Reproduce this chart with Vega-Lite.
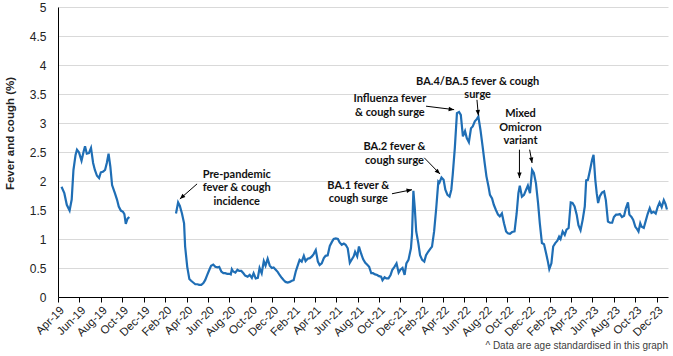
{
  "$schema": "https://vega.github.io/schema/vega-lite/v6.json",
  "width": 610,
  "height": 290,
  "autosize": {"type": "none"},
  "padding": {"left": 58, "top": 7, "right": 5, "bottom": 59},
  "background": "white",
  "config": {
    "view": {"stroke": null},
    "font": "Liberation Sans",
    "axisX": {
      "format": "%b-%y", "labelAngle": -45, "labelOverlap": false, "labelFlush": false, "labelBound": false,
      "grid": false, "tickSize": 5, "tickColor": "#000", "domainColor": "#000", "domainWidth": 1,
      "labelFontSize": 11.5, "labelColor": "#222", "labelPadding": 2, "labelFont": "Liberation Sans"
    },
    "axisY": {
      "format": "~g", "labelOverlap": false,
      "ticks": false, "tickSize": 0, "labelPadding": 12, "domainColor": "#000", "domainWidth": 1,
      "grid": true, "gridColor": "#d9d9d9", "gridWidth": 1,
      "labelFontSize": 12, "labelColor": "#222", "labelFont": "Liberation Sans",
      "titleFontSize": 11.5, "titleFontWeight": "bold", "titleColor": "#222", "titleFont": "Liberation Sans",
      "titleX": -48, "titleY": 126, "titleAngle": -90, "titleAlign": "center", "titleBaseline": "middle"
    }
  },
  "title": {"text": "^ Data are age standardised in this graph", "orient": "bottom", "anchor": "end", "frame": "group", "fontSize": 10, "fontWeight": "normal", "color": "#404040", "font": "Liberation Sans", "offset": 3},
  "datasets": {
    "series": [
      {"date": "2019-04-11", "value": 1.90}, {"date": "2019-04-19", "value": 1.79}, {"date": "2019-04-26", "value": 1.59}, {"date": "2019-05-04", "value": 1.49},
      {"date": "2019-05-10", "value": 1.68}, {"date": "2019-05-15", "value": 2.19}, {"date": "2019-05-21", "value": 2.45}, {"date": "2019-05-25", "value": 2.54},
      {"date": "2019-05-31", "value": 2.49}, {"date": "2019-06-07", "value": 2.35}, {"date": "2019-06-13", "value": 2.51}, {"date": "2019-06-17", "value": 2.60},
      {"date": "2019-06-22", "value": 2.47}, {"date": "2019-06-28", "value": 2.48}, {"date": "2019-07-04", "value": 2.57}, {"date": "2019-07-10", "value": 2.31},
      {"date": "2019-07-15", "value": 2.19}, {"date": "2019-07-21", "value": 2.09}, {"date": "2019-07-27", "value": 2.05}, {"date": "2019-08-01", "value": 2.15},
      {"date": "2019-08-07", "value": 2.16}, {"date": "2019-08-13", "value": 2.19}, {"date": "2019-08-18", "value": 2.31}, {"date": "2019-08-23", "value": 2.47},
      {"date": "2019-08-28", "value": 2.25}, {"date": "2019-09-02", "value": 1.93}, {"date": "2019-09-10", "value": 1.79}, {"date": "2019-09-16", "value": 1.68},
      {"date": "2019-09-21", "value": 1.56}, {"date": "2019-09-27", "value": 1.49}, {"date": "2019-10-03", "value": 1.47}, {"date": "2019-10-07", "value": 1.43},
      {"date": "2019-10-11", "value": 1.26}, {"date": "2019-10-16", "value": 1.35}, {"date": "2019-10-21", "value": 1.38},
      {"date": "2019-12-15", "value": null},
      {"date": "2020-03-02", "value": 1.44}, {"date": "2020-03-08", "value": 1.63}, {"date": "2020-03-13", "value": 1.57}, {"date": "2020-03-19", "value": 1.44},
      {"date": "2020-03-25", "value": 1.27}, {"date": "2020-03-28", "value": 0.87}, {"date": "2020-04-03", "value": 0.52}, {"date": "2020-04-09", "value": 0.31},
      {"date": "2020-04-14", "value": 0.28}, {"date": "2020-04-20", "value": 0.25}, {"date": "2020-04-26", "value": 0.22}, {"date": "2020-05-02", "value": 0.22},
      {"date": "2020-05-07", "value": 0.21}, {"date": "2020-05-13", "value": 0.21}, {"date": "2020-05-19", "value": 0.24}, {"date": "2020-05-24", "value": 0.29},
      {"date": "2020-05-30", "value": 0.38}, {"date": "2020-06-05", "value": 0.47}, {"date": "2020-06-10", "value": 0.54}, {"date": "2020-06-16", "value": 0.56},
      {"date": "2020-06-22", "value": 0.52}, {"date": "2020-06-28", "value": 0.51}, {"date": "2020-07-03", "value": 0.52}, {"date": "2020-07-09", "value": 0.44},
      {"date": "2020-07-15", "value": 0.41}, {"date": "2020-07-20", "value": 0.41}, {"date": "2020-07-26", "value": 0.40}, {"date": "2020-08-01", "value": 0.40},
      {"date": "2020-08-05", "value": 0.39}, {"date": "2020-08-08", "value": 0.48}, {"date": "2020-08-12", "value": 0.44}, {"date": "2020-08-18", "value": 0.42},
      {"date": "2020-08-24", "value": 0.47}, {"date": "2020-08-29", "value": 0.45}, {"date": "2020-09-04", "value": 0.45}, {"date": "2020-09-10", "value": 0.41},
      {"date": "2020-09-15", "value": 0.37}, {"date": "2020-09-22", "value": 0.35}, {"date": "2020-09-28", "value": 0.38}, {"date": "2020-10-04", "value": 0.33},
      {"date": "2020-10-09", "value": 0.41}, {"date": "2020-10-15", "value": 0.32}, {"date": "2020-10-21", "value": 0.33}, {"date": "2020-10-26", "value": 0.50},
      {"date": "2020-11-01", "value": 0.41}, {"date": "2020-11-07", "value": 0.62}, {"date": "2020-11-12", "value": 0.54}, {"date": "2020-11-18", "value": 0.66},
      {"date": "2020-11-24", "value": 0.54}, {"date": "2020-11-30", "value": 0.50}, {"date": "2020-12-05", "value": 0.51}, {"date": "2020-12-11", "value": 0.47},
      {"date": "2020-12-17", "value": 0.43}, {"date": "2020-12-22", "value": 0.38}, {"date": "2020-12-28", "value": 0.33}, {"date": "2021-01-03", "value": 0.29},
      {"date": "2021-01-08", "value": 0.26}, {"date": "2021-01-14", "value": 0.25}, {"date": "2021-01-20", "value": 0.26}, {"date": "2021-01-26", "value": 0.28},
      {"date": "2021-01-31", "value": 0.29}, {"date": "2021-02-06", "value": 0.44}, {"date": "2021-02-12", "value": 0.55}, {"date": "2021-02-17", "value": 0.64},
      {"date": "2021-02-23", "value": 0.61}, {"date": "2021-03-01", "value": 0.71}, {"date": "2021-03-06", "value": 0.62}, {"date": "2021-03-12", "value": 0.66},
      {"date": "2021-03-18", "value": 0.67}, {"date": "2021-03-24", "value": 0.70}, {"date": "2021-03-29", "value": 0.74}, {"date": "2021-04-04", "value": 0.81},
      {"date": "2021-04-10", "value": 0.61}, {"date": "2021-04-15", "value": 0.55}, {"date": "2021-04-21", "value": 0.58}, {"date": "2021-04-27", "value": 0.67},
      {"date": "2021-05-02", "value": 0.71}, {"date": "2021-05-08", "value": 0.72}, {"date": "2021-05-14", "value": 0.88}, {"date": "2021-05-20", "value": 0.95},
      {"date": "2021-05-25", "value": 1.00}, {"date": "2021-05-31", "value": 1.01}, {"date": "2021-06-06", "value": 1.00}, {"date": "2021-06-11", "value": 0.94},
      {"date": "2021-06-17", "value": 0.90}, {"date": "2021-06-23", "value": 0.92}, {"date": "2021-06-28", "value": 0.90}, {"date": "2021-07-04", "value": 0.84},
      {"date": "2021-07-10", "value": 0.59}, {"date": "2021-07-16", "value": 0.65}, {"date": "2021-07-21", "value": 0.70}, {"date": "2021-07-25", "value": 0.78},
      {"date": "2021-07-31", "value": 0.70}, {"date": "2021-08-05", "value": 0.87}, {"date": "2021-08-11", "value": 0.75}, {"date": "2021-08-17", "value": 0.65},
      {"date": "2021-08-23", "value": 0.59}, {"date": "2021-08-28", "value": 0.56}, {"date": "2021-09-03", "value": 0.52}, {"date": "2021-09-09", "value": 0.41},
      {"date": "2021-09-14", "value": 0.41}, {"date": "2021-09-20", "value": 0.39}, {"date": "2021-09-26", "value": 0.38}, {"date": "2021-10-01", "value": 0.36},
      {"date": "2021-10-07", "value": 0.35}, {"date": "2021-10-11", "value": 0.29}, {"date": "2021-10-17", "value": 0.34}, {"date": "2021-10-22", "value": 0.32},
      {"date": "2021-10-28", "value": 0.32}, {"date": "2021-11-03", "value": 0.38}, {"date": "2021-11-08", "value": 0.47}, {"date": "2021-11-14", "value": 0.52},
      {"date": "2021-11-20", "value": 0.58}, {"date": "2021-11-26", "value": 0.42}, {"date": "2021-12-01", "value": 0.47}, {"date": "2021-12-07", "value": 0.50},
      {"date": "2021-12-13", "value": 0.38}, {"date": "2021-12-18", "value": 0.58}, {"date": "2021-12-24", "value": 0.64}, {"date": "2021-12-31", "value": 0.84},
      {"date": "2022-01-03", "value": 1.07}, {"date": "2022-01-07", "value": 1.83}, {"date": "2022-01-11", "value": 1.53}, {"date": "2022-01-15", "value": 1.13},
      {"date": "2022-01-21", "value": 0.93}, {"date": "2022-01-26", "value": 0.72}, {"date": "2022-02-01", "value": 0.64}, {"date": "2022-02-07", "value": 0.61},
      {"date": "2022-02-12", "value": 0.72}, {"date": "2022-02-18", "value": 0.78}, {"date": "2022-02-24", "value": 0.83}, {"date": "2022-03-01", "value": 0.87},
      {"date": "2022-03-07", "value": 1.13}, {"date": "2022-03-13", "value": 1.53}, {"date": "2022-03-19", "value": 1.99}, {"date": "2022-03-22", "value": 1.97},
      {"date": "2022-03-28", "value": 2.06}, {"date": "2022-04-03", "value": 2.02}, {"date": "2022-04-08", "value": 1.85}, {"date": "2022-04-14", "value": 1.76},
      {"date": "2022-04-20", "value": 1.73}, {"date": "2022-04-25", "value": 1.85}, {"date": "2022-04-29", "value": 2.11}, {"date": "2022-05-05", "value": 2.57},
      {"date": "2022-05-11", "value": 3.17}, {"date": "2022-05-17", "value": 3.19}, {"date": "2022-05-22", "value": 3.14}, {"date": "2022-05-28", "value": 2.77},
      {"date": "2022-06-03", "value": 2.86}, {"date": "2022-06-08", "value": 2.74}, {"date": "2022-06-14", "value": 2.67}, {"date": "2022-06-20", "value": 2.91},
      {"date": "2022-06-25", "value": 2.94}, {"date": "2022-07-01", "value": 3.03}, {"date": "2022-07-07", "value": 3.07}, {"date": "2022-07-11", "value": 3.11},
      {"date": "2022-07-17", "value": 2.88}, {"date": "2022-07-23", "value": 2.60}, {"date": "2022-07-29", "value": 2.31}, {"date": "2022-08-03", "value": 2.08},
      {"date": "2022-08-09", "value": 1.90}, {"date": "2022-08-13", "value": 1.76}, {"date": "2022-08-19", "value": 1.70}, {"date": "2022-08-24", "value": 1.59},
      {"date": "2022-08-30", "value": 1.50}, {"date": "2022-09-05", "value": 1.42}, {"date": "2022-09-10", "value": 1.39}, {"date": "2022-09-16", "value": 1.44},
      {"date": "2022-09-22", "value": 1.27}, {"date": "2022-09-28", "value": 1.13}, {"date": "2022-10-03", "value": 1.10}, {"date": "2022-10-09", "value": 1.09},
      {"date": "2022-10-15", "value": 1.12}, {"date": "2022-10-22", "value": 1.13}, {"date": "2022-10-28", "value": 1.44}, {"date": "2022-11-02", "value": 1.79},
      {"date": "2022-11-06", "value": 1.92}, {"date": "2022-11-12", "value": 1.73}, {"date": "2022-11-18", "value": 1.76}, {"date": "2022-11-24", "value": 1.85},
      {"date": "2022-11-29", "value": 1.92}, {"date": "2022-12-05", "value": 1.79}, {"date": "2022-12-11", "value": 2.19}, {"date": "2022-12-16", "value": 2.14},
      {"date": "2022-12-22", "value": 1.96}, {"date": "2022-12-28", "value": 1.62}, {"date": "2023-01-02", "value": 1.27}, {"date": "2023-01-08", "value": 0.93},
      {"date": "2023-01-14", "value": 0.91}, {"date": "2023-01-20", "value": 0.75}, {"date": "2023-01-25", "value": 0.61}, {"date": "2023-01-29", "value": 0.48},
      {"date": "2023-02-04", "value": 0.58}, {"date": "2023-02-09", "value": 0.87}, {"date": "2023-02-15", "value": 0.93}, {"date": "2023-02-21", "value": 0.97},
      {"date": "2023-02-26", "value": 1.04}, {"date": "2023-03-02", "value": 1.00}, {"date": "2023-03-08", "value": 1.13}, {"date": "2023-03-14", "value": 1.07},
      {"date": "2023-03-19", "value": 1.16}, {"date": "2023-03-25", "value": 1.19}, {"date": "2023-03-31", "value": 1.63}, {"date": "2023-04-05", "value": 1.62},
      {"date": "2023-04-11", "value": 1.56}, {"date": "2023-04-17", "value": 1.42}, {"date": "2023-04-22", "value": 1.24}, {"date": "2023-04-28", "value": 1.15},
      {"date": "2023-05-04", "value": 1.33}, {"date": "2023-05-10", "value": 1.56}, {"date": "2023-05-14", "value": 2.01}, {"date": "2023-05-19", "value": 2.02},
      {"date": "2023-05-25", "value": 2.19}, {"date": "2023-05-31", "value": 2.37}, {"date": "2023-06-04", "value": 2.45}, {"date": "2023-06-09", "value": 2.02},
      {"date": "2023-06-13", "value": 1.79}, {"date": "2023-06-17", "value": 1.62}, {"date": "2023-06-22", "value": 1.74}, {"date": "2023-06-28", "value": 1.80},
      {"date": "2023-07-04", "value": 1.82}, {"date": "2023-07-09", "value": 1.67}, {"date": "2023-07-15", "value": 1.30}, {"date": "2023-07-21", "value": 1.28},
      {"date": "2023-07-27", "value": 1.28}, {"date": "2023-08-01", "value": 1.38}, {"date": "2023-08-07", "value": 1.42}, {"date": "2023-08-13", "value": 1.42},
      {"date": "2023-08-18", "value": 1.43}, {"date": "2023-08-24", "value": 1.38}, {"date": "2023-08-30", "value": 1.40}, {"date": "2023-09-04", "value": 1.53},
      {"date": "2023-09-10", "value": 1.63}, {"date": "2023-09-14", "value": 1.42}, {"date": "2023-09-20", "value": 1.38}, {"date": "2023-09-25", "value": 1.33},
      {"date": "2023-10-01", "value": 1.21}, {"date": "2023-10-06", "value": 1.17}, {"date": "2023-10-10", "value": 1.13}, {"date": "2023-10-15", "value": 1.27},
      {"date": "2023-10-19", "value": 1.21}, {"date": "2023-10-25", "value": 1.19}, {"date": "2023-10-30", "value": 1.30}, {"date": "2023-11-05", "value": 1.43},
      {"date": "2023-11-11", "value": 1.53}, {"date": "2023-11-16", "value": 1.45}, {"date": "2023-11-22", "value": 1.47}, {"date": "2023-11-28", "value": 1.44},
      {"date": "2023-12-04", "value": 1.56}, {"date": "2023-12-09", "value": 1.63}, {"date": "2023-12-15", "value": 1.55}, {"date": "2023-12-21", "value": 1.67},
      {"date": "2023-12-26", "value": 1.60}, {"date": "2023-12-30", "value": 1.51}
    ],
    "arrows": [
      {"label": "pre", "date": "2020-05-01", "value": 1.95, "date_end": "2020-03-13", "value_end": 1.69},
      {"label": "ba1", "date": "2021-11-07", "value": 1.78, "date_end": "2022-01-03", "value_end": 1.85},
      {"label": "ba2", "date": "2022-02-07", "value": 2.40, "date_end": "2022-03-24", "value_end": 2.12},
      {"label": "flu", "date": "2022-02-12", "value": 3.29, "date_end": "2022-05-03", "value_end": 3.23},
      {"label": "ba45", "date": "2022-07-07", "value": 3.40, "date_end": "2022-07-11", "value_end": 3.13},
      {"label": "mixa", "date": "2022-11-05", "value": 2.54, "date_end": "2022-11-05", "value_end": 2.05},
      {"label": "mixb", "date": "2022-12-04", "value": 2.54, "date_end": "2022-12-11", "value_end": 2.31}
    ],
    "notes": [
      {"text": "Pre-pandemic\nfever & cough\nincidence", "date": "2020-08-22", "value": 2.11},
      {"text": "BA.1 fever &\ncough surge", "date": "2021-08-03", "value": 1.92},
      {"text": "BA.2 fever &\ncough surge", "date": "2021-11-14", "value": 2.58},
      {"text": "Influenza fever\n& cough surge", "date": "2021-11-01", "value": 3.41},
      {"text": "BA.4/BA.5 fever & cough\nsurge", "date": "2022-07-09", "value": 3.71},
      {"text": "Mixed\nOmicron\nvariant", "date": "2022-11-08", "value": 3.15}
    ]
  },
  "encoding": {
    "x": {
      "field": "date", "type": "temporal", "title": null,
      "scale": {"domain": [{"year": 2019, "month": 4, "date": 1}, {"year": 2024, "month": 1, "date": 2}]},
      "axis": {
        "values": [
          {"year": 2019, "month": 4, "date": 1}, {"year": 2019, "month": 6, "date": 1}, {"year": 2019, "month": 8, "date": 1}, {"year": 2019, "month": 10, "date": 1}, {"year": 2019, "month": 12, "date": 1},
          {"year": 2020, "month": 2, "date": 1}, {"year": 2020, "month": 4, "date": 1}, {"year": 2020, "month": 6, "date": 1}, {"year": 2020, "month": 8, "date": 1}, {"year": 2020, "month": 10, "date": 1}, {"year": 2020, "month": 12, "date": 1},
          {"year": 2021, "month": 2, "date": 1}, {"year": 2021, "month": 4, "date": 1}, {"year": 2021, "month": 6, "date": 1}, {"year": 2021, "month": 8, "date": 1}, {"year": 2021, "month": 10, "date": 1}, {"year": 2021, "month": 12, "date": 1},
          {"year": 2022, "month": 2, "date": 1}, {"year": 2022, "month": 4, "date": 1}, {"year": 2022, "month": 6, "date": 1}, {"year": 2022, "month": 8, "date": 1}, {"year": 2022, "month": 10, "date": 1}, {"year": 2022, "month": 12, "date": 1},
          {"year": 2023, "month": 2, "date": 1}, {"year": 2023, "month": 4, "date": 1}, {"year": 2023, "month": 6, "date": 1}, {"year": 2023, "month": 8, "date": 1}, {"year": 2023, "month": 10, "date": 1}, {"year": 2023, "month": 12, "date": 1}
        ]
      }
    },
    "y": {
      "field": "value", "type": "quantitative", "title": "Fever and cough (%)",
      "scale": {"domain": [0, 5], "nice": false, "zero": true},
      "axis": {"values": [0, 0.5, 1, 1.5, 2, 2.5, 3, 3.5, 4, 4.5, 5]}
    }
  },
  "layer": [
    {
      "data": {"name": "series"},
      "mark": {"type": "line", "color": "#1f6eb5", "strokeWidth": 2.2, "invalid": "break-paths-filter-domains"}
    },
    {
      "data": {"name": "arrows"},
      "mark": {"type": "rule", "color": "#000", "strokeWidth": 1},
      "encoding": {
        "x2": {"field": "date_end"},
        "y2": {"field": "value_end"}
      }
    },
    {
      "data": {"name": "arrows"},
      "mark": {"type": "point", "shape": "M0,0L-0.8,2L0.8,2Z", "filled": true, "color": "#000", "size": 30, "opacity": 1},
      "encoding": {
        "x": {"field": "date_end", "type": "temporal"},
        "y": {"field": "value_end", "type": "quantitative"},
        "angle": {"field": "label", "type": "nominal", "legend": null,
          "scale": {"type": "ordinal", "domain": ["pre", "ba1", "ba2", "flu", "ba45", "mixa", "mixb"], "range": [228, 79, 134, 97, 174, 180, 170]}}
      }
    },
    {
      "data": {"name": "notes"},
      "mark": {"type": "text", "font": "Lato", "fontWeight": "bold", "fontSize": 11, "lineBreak": "\n", "lineHeight": 13.5, "align": "center", "baseline": "middle", "color": "#111"},
      "encoding": {
        "text": {"field": "text"}
      }
    }
  ]
}
